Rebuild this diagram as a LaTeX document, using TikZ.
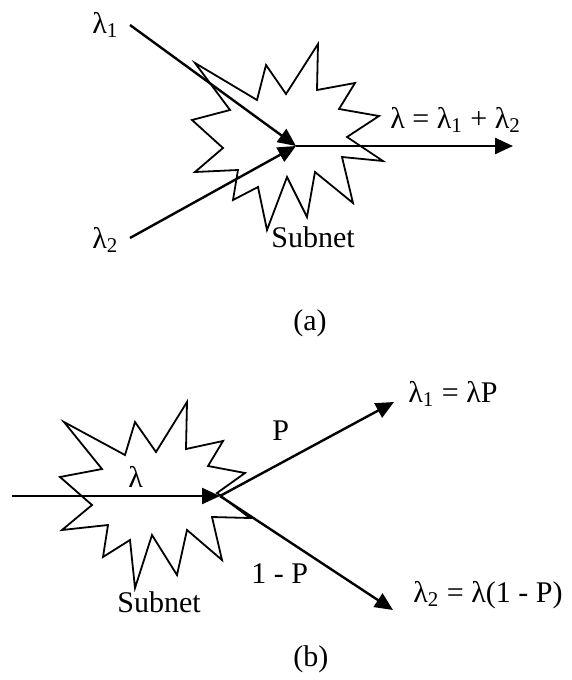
\documentclass[tikz,border=0pt]{standalone}
\usepackage{fontspec}
\setmainfont{Liberation Serif}
\usetikzlibrary{arrows.meta}

\begin{document}
\begin{tikzpicture}[
  x=0.5pt, y=-0.5pt,
  lbl/.style={anchor=base west, inner sep=0pt, font=\fontsize{15}{18}\selectfont},
  arr/.style={-{Triangle[length=9pt,width=8pt]}, line width=1.2pt},
  burst/.style={draw, line width=0.9pt, line join=miter, miter limit=20}
]
\useasboundingbox (0,0) rectangle (572,680);

% (a)
\draw[burst] (195,63) -- (257,100) -- (266,65) -- (286,94) -- (318,44) -- (317,90)
  -- (355,83) -- (339,109) -- (379,116) -- (347,137) -- (383,161) -- (342,157)
  -- (353,203) -- (315,172) -- (307,217) -- (287,177) -- (267,230) -- (258,187)
  -- (233,200) -- (238,170) -- (195,172) -- (223,148) -- (192,120) -- (230,110) -- cycle;
\coordinate (ja) at (296,146);
\coordinate (ina1) at (130,25);
\coordinate (ina2) at (130,238);
\coordinate (outa) at (513,146);
\node[lbl] (lamA1) at (92,33) {λ\textsubscript{1}};
\node[lbl] (lamA2) at (92,248) {λ\textsubscript{2}};
\node[lbl] (sumA) at (390,128) {λ = λ\textsubscript{1} + λ\textsubscript{2}};
\node[lbl] (subA) at (271,247) {Subnet};
\node[lbl] (capA) at (293,330) {(a)};
\draw[arr] (ina1) -- (ja);
\draw[arr] (ina2) -- (ja);
\draw[arr] (ja) -- (outa);

% (b)
\draw[burst] (64,422) -- (125,455) -- (135,422) -- (156,452) -- (187,402) -- (186,449)
  -- (223,441) -- (208,466) -- (245,473) -- (217,493) -- (250,518) -- (212,517)
  -- (222,560) -- (187,530) -- (177,575) -- (152,535) -- (135,588) -- (130,540)
  -- (103,557) -- (108,525) -- (62,530) -- (92,505) -- (60,477) -- (102,469) -- cycle;
\coordinate (jb) at (220,496);
\coordinate (inb) at (12,496);
\coordinate (outb1) at (394,402);
\coordinate (outb2) at (393,610);
\node[lbl] (lamB) at (128,487) {λ};
\node[lbl] (pB) at (272,440) {P};
\node[lbl] (qB) at (251,583) {1 - P};
\node[lbl] (subB) at (117,612) {Subnet};
\node[lbl] (resB1) at (408,402) {λ\textsubscript{1} = λP};
\node[lbl] (resB2) at (413,602) {λ\textsubscript{2} = λ(1 - P)};
\node[lbl] (capB) at (293,666) {(b)};
\draw[arr] (inb) -- (jb);
\draw[arr] (jb) -- (outb1);
\draw[arr] (jb) -- (outb2);
\end{tikzpicture}
\end{document}
